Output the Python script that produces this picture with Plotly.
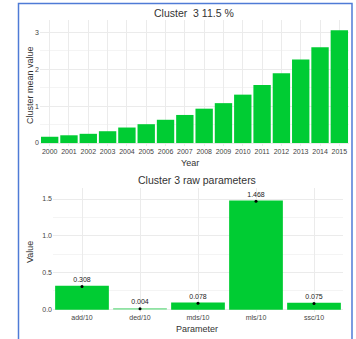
import plotly.graph_objects as go

W, H = 356, 339

years = [str(y) for y in range(2000, 2016)]
mean_values = [0.17, 0.21, 0.25, 0.32, 0.42, 0.51, 0.63, 0.76, 0.93, 1.08, 1.31, 1.57, 1.89, 2.26, 2.59, 3.05]

params = ["add/10", "ded/10", "mds/10", "mls/10", "ssc/10"]
param_values = [0.308, 0.004, 0.078, 1.468, 0.075]
param_labels = ["0.308", "0.004", "0.078", "1.468", "0.075"]

green = "#00CC33"
pale = "#8FE3A3"
grid = "#EBEBEB"
minor_grid = "#F4F4F4"
tick_font = dict(family="Liberation Sans, Arial", size=7, color="#444444")
title_font = dict(family="Liberation Sans, Arial", size=10.5, color="#333333")
axis_font = dict(family="Liberation Sans, Arial", size=9, color="#333333")


def px_x(v):
    return v / W


def px_y(v):
    return 1 - v / H


fig = go.Figure()

fig.add_trace(go.Bar(
    x=years, y=mean_values, marker_color=green, marker_line_width=0,
    xaxis="x", yaxis="y", showlegend=False,
))

fig.add_trace(go.Bar(
    x=params, y=param_values,
    marker_color=[pale if v < 0.01 else green for v in param_values],
    marker_line_color=[pale if v < 0.01 else green for v in param_values],
    marker_line_width=1.5,
    xaxis="x2", yaxis="y2", showlegend=False,
))

fig.add_trace(go.Scatter(
    x=params, y=param_values, mode="markers+text", text=param_labels,
    textposition="top center",
    textfont=dict(family="Liberation Sans, Arial", size=7, color="#222222"),
    marker=dict(color="black", size=3),
    xaxis="x2", yaxis="y2", showlegend=False, cliponaxis=False,
))

axis_common = dict(showline=False, zeroline=False, ticks="", gridcolor=grid, gridwidth=1,
                   tickfont=tick_font)

fig.update_layout(
    width=W, height=H,
    margin=dict(l=0, r=0, t=0, b=0),
    paper_bgcolor="white", plot_bgcolor="white",
    bargap=0.1,
    xaxis=dict(domain=[px_x(40), px_x(349)], anchor="y", type="category", **axis_common),
    yaxis=dict(domain=[px_y(146), px_y(20)], anchor="x", range=[-0.08, 3.33],
               tickvals=[0, 1, 2, 3], ticktext=["0", "1", "2", "3"],
               minor=dict(tickvals=[0.5, 1.5, 2.5], showgrid=True, gridcolor=minor_grid),
               **axis_common),
    xaxis2=dict(domain=[px_x(53), px_x(343)], anchor="y2", type="category", **axis_common),
    yaxis2=dict(domain=[px_y(312), px_y(188)], anchor="x2", range=[-0.04, 1.65],
                tickvals=[0, 0.5, 1, 1.5], ticktext=["0.0", "0.5", "1.0", "1.5"],
                minor=dict(tickvals=[0.25, 0.75, 1.25], showgrid=True, gridcolor=minor_grid),
                **axis_common),
    annotations=[
        dict(text="Cluster\u00a0 3 11.5 %", x=px_x(194), y=px_y(13), xref="paper", yref="paper",
             showarrow=False, font=title_font, xanchor="center", yanchor="middle"),
        dict(text="Year", x=px_x(190), y=px_y(163), xref="paper", yref="paper",
             showarrow=False, font=axis_font, xanchor="center", yanchor="middle"),
        dict(text="Cluster mean value", x=px_x(30), y=px_y(85), xref="paper", yref="paper",
             showarrow=False, font=axis_font, textangle=-90, xanchor="center", yanchor="middle"),
        dict(text="Cluster 3 raw parameters", x=px_x(197), y=px_y(180), xref="paper", yref="paper",
             showarrow=False, font=title_font, xanchor="center", yanchor="middle"),
        dict(text="Parameter", x=px_x(197), y=px_y(329), xref="paper", yref="paper",
             showarrow=False, font=axis_font, xanchor="center", yanchor="middle"),
        dict(text="Value", x=px_x(30), y=px_y(252), xref="paper", yref="paper",
             showarrow=False, font=axis_font, textangle=-90, xanchor="center", yanchor="middle"),
    ],
    shapes=[
        dict(type="rect", xref="paper", yref="paper",
             x0=px_x(18.5), x1=px_x(352), y0=-0.05, y1=px_y(3.5),
             line=dict(color="#4F7BD6", width=1.5), fillcolor="rgba(0,0,0,0)", layer="above"),
    ],
)

# the page body has a default 8px margin; drop it so the figure sits at the corner
fig.write_html("out.html", config={"displayModeBar": False},
               post_script="document.body.style.margin='0';")
